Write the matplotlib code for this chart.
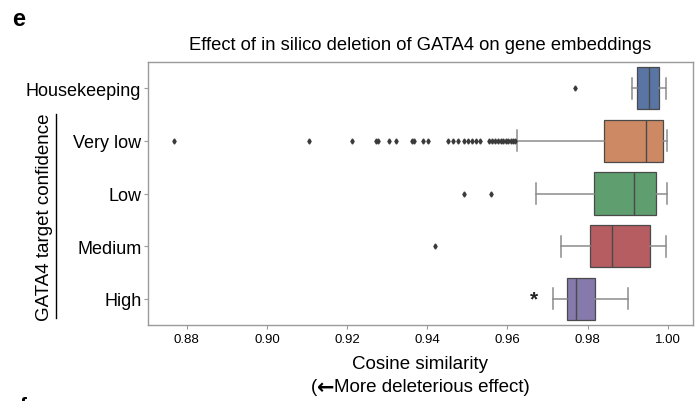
import matplotlib
matplotlib.use("Agg")
import matplotlib.pyplot as plt
from matplotlib.lines import Line2D
from matplotlib.offsetbox import TextArea, HPacker, AnnotationBbox

plt.rcParams['font.family'] = ['Liberation Sans', 'DejaVu Sans']

# ---- data ----
categories = ["Housekeeping", "Very low", "Low", "Medium", "High"]
q1 = [0.9924, 0.9842, 0.9816, 0.9806, 0.9749]
median = [0.9954, 0.9945, 0.9916, 0.9862, 0.9771]
q3 = [0.9979, 0.9988, 0.9970, 0.9955, 0.9819]
whisker_low = [0.9912, 0.9623, 0.9671, 0.9735, 0.9715]
whisker_high = [0.9996, 0.9999, 0.9999, 0.9997, 0.9900]
outliers_housekeeping = [0.9770]
outliers_very_low = [0.8768, 0.9105, 0.9212, 0.9272, 0.9276, 0.9304, 0.9321,
                     0.9362, 0.9367, 0.9390, 0.9403,
                     0.9453, 0.9465, 0.9477,
                     0.9492, 0.9502, 0.9512, 0.9522, 0.9532,
                     0.9555, 0.9562, 0.9570, 0.9577, 0.9583, 0.9590,
                     0.9596, 0.9602, 0.9608, 0.9614, 0.9619]
outliers_low = [0.9493, 0.9560]
outliers_medium = [0.9419]
outliers_high = []
significance_marker = "*"
significance_value = 0.9667
significance_category = "High"
xticks = [0.88, 0.90, 0.92, 0.94, 0.96, 0.98, 1.00]
colors = ["#5975a4", "#cc8963", "#5f9e6e", "#b55d60", "#857aab"]

fliers = [outliers_housekeeping, outliers_very_low, outliers_low,
          outliers_medium, outliers_high]

W, H = 699, 402
fig = plt.figure(figsize=(W / 100, H / 100), dpi=100)
ax = fig.add_axes([148.3 / W, 1 - 326 / H, (692.5 - 148.3) / W, (326 - 63) / H])

stats = []
for i, c in enumerate(categories):
    stats.append(dict(label=c, q1=q1[i], med=median[i], q3=q3[i],
                      whislo=whisker_low[i], whishi=whisker_high[i],
                      fliers=fliers[i]))

positions = list(range(len(categories)))
bp = ax.bxp(stats, positions=positions, vert=False, widths=0.8,
            patch_artist=True, showfliers=True,
            boxprops=dict(edgecolor="#4a4a4a", linewidth=0.9),
            medianprops=dict(color="#4a4a4a", linewidth=1.0),
            whiskerprops=dict(color="#8c8c8c", linewidth=1.1),
            capprops=dict(color="#8c8c8c", linewidth=1.1),
            flierprops=dict(marker="d", markersize=2.6, markerfacecolor="#3a3a3a",
                            markeredgecolor="#3a3a3a", linestyle="none"))
for patch, col in zip(bp["boxes"], colors):
    patch.set_facecolor(col)

ax.text(significance_value, categories.index(significance_category),
        significance_marker, ha="center", va="center", fontsize=15,
        fontweight="bold", color="#222222")

ax.set_ylim(len(categories) - 0.5, -0.5)
ax.set_yticks(positions)
ax.set_yticklabels(categories, fontsize=13)
ax.set_xlim(0.8704, 1.0062)
ax.set_xticks(xticks)
ax.set_xticklabels([f"{t:.2f}" for t in xticks], fontsize=9.5)
for s in ax.spines.values():
    s.set_color("#9a9a9a")
    s.set_linewidth(1.0)
ax.tick_params(axis="both", colors="#9a9a9a", length=3, width=0.8, pad=2)
ax.tick_params(axis="y", labelcolor="black")
ax.tick_params(axis="x", labelcolor="black", pad=3)

ax.set_xlabel("Cosine similarity", fontsize=13.5, labelpad=7)
ax.set_title("Effect of in silico deletion of GATA4 on gene embeddings",
             fontsize=13.2, pad=9)

# second line of the x label, with a heavy arrow
p1 = TextArea("(", textprops=dict(fontsize=13.5))
p2 = TextArea("\u2190", textprops=dict(fontsize=15, fontweight="bold",
                                        family="DejaVu Sans"))
p3 = TextArea("More deleterious effect)", textprops=dict(fontsize=13.5))
pack = HPacker(children=[p1, p2, p3], align="center", pad=0, sep=0)
ab = AnnotationBbox(pack, (0.5 * (148.3 + 692.5) / W, 1 - 388 / H),
                    xycoords="figure fraction", frameon=False,
                    box_alignment=(0.5, 0.5), pad=0)
fig.add_artist(ab)

# underlined group label
fig.text(45 / W, 1 - 217 / H, "GATA4 target confidence", rotation=90,
         ha="center", va="center", fontsize=13.5)
fig.add_artist(Line2D([56 / W, 56 / W], [1 - 115 / H, 1 - 319 / H],
                      transform=fig.transFigure, color="black", linewidth=1.0))

fig.text(12 / W, 1 - 19 / H, "e", fontsize=17, fontweight="bold",
         ha="left", va="center")
fig.text(20 / W, 1 - 397 / H, "f", fontsize=15, fontweight="bold",
         ha="left", va="top")

fig.savefig("out.png", dpi=100)
